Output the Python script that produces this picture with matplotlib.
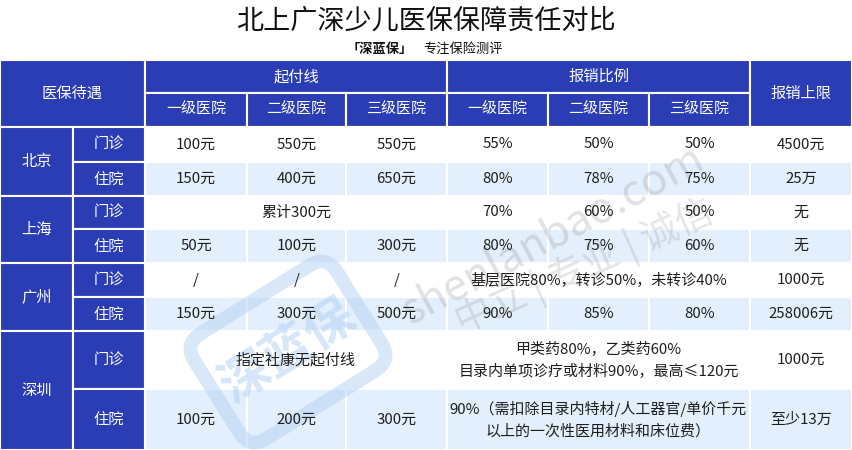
import matplotlib
matplotlib.use('Agg')
import matplotlib.pyplot as plt
from matplotlib.patches import Rectangle, FancyBboxPatch
import matplotlib.transforms as mtransforms

plt.rcParams['font.family'] = ['Noto Sans CJK SC', 'DejaVu Sans']

title = '北上广深少儿医保保障责任对比'
brand = '「深蓝保」'
slogan = '专注保险测评'

cities = ['北京', '上海', '广州', '深圳']
kinds = ['门诊', '住院']
groups = ['起付线', '报销比例']
levels = ['一级医院', '二级医院', '三级医院']

# one list per body row, (text, span) for merged cells
deduct = [
    ['100元', '550元', '550元'],
    ['150元', '400元', '650元'],
    [('累计300元', 3)],
    ['50元', '100元', '300元'],
    ['/', '/', '/'],
    ['150元', '300元', '500元'],
    [('指定社康无起付线', 3)],
    ['100元', '200元', '300元'],
]
ratio = [
    ['55%', '50%', '50%'],
    ['80%', '78%', '75%'],
    ['70%', '60%', '50%'],
    ['80%', '75%', '60%'],
    [('基层医院80%，转诊50%，未转诊40%', 3)],
    ['90%', '85%', '80%'],
    [('甲类药80%，乙类药60%\n目录内单项诊疗或材料90%，最高≤120元', 3)],
    [('90%（需扣除目录内特材/人工器官/单价千元\n以上的一次性医用材料和床位费）', 3)],
]
limits = ['4500元', '25万', '无', '无', '1000元', '258006元', '1000元', '至少13万']

BLUE = '#2a3db5'
LIGHT = '#e3effc'
INK = '#1e1e1e'

col_x = [0, 73, 145, 247, 346, 447, 548, 649, 750, 852]
head_y = [60, 93, 127]
row_y = [127, 162, 196, 229, 263, 297, 331, 389, 450]

fig = plt.figure(figsize=(8.52, 4.5), dpi=100)
ax = fig.add_axes([0, 0, 1, 1])
ax.set_xlim(0, 852)
ax.set_ylim(450, 0)
ax.axis('off')


def cell(x0, x1, y0, y1, face, txt, color=INK, size=10.8):
    ax.add_patch(Rectangle((x0, y0), x1 - x0, y1 - y0, facecolor=face,
                           edgecolor='white', linewidth=1.5, zorder=1))
    if txt:
        ax.text((x0 + x1) / 2, (y0 + y1) / 2, txt, ha='center', va='center',
                color=color, fontsize=size, linespacing=1.6, zorder=3)


def group_cells(items, start, y0, y1, face):
    c = start
    for it in items:
        if isinstance(it, tuple):
            txt, span = it
        else:
            txt, span = it, 1
        cell(col_x[c], col_x[c + span], y0, y1, face, txt)
        c += span


# title
ax.text(426, 21, title, ha='center', va='center', fontsize=19.5,
        fontweight='medium', color='#111111')
ax.text(413, 49, brand, ha='right', va='center', fontsize=9.5,
        fontweight='bold', color='#111111')
ax.text(423, 49, slogan, ha='left', va='center', fontsize=9.5, color='#111111')

# header
cell(0, col_x[2], head_y[0], head_y[2], BLUE, '医保待遇', 'white', 11)
for g, name in enumerate(groups):
    cell(col_x[2 + 3 * g], col_x[5 + 3 * g], head_y[0], head_y[1], BLUE, name, 'white', 11)
for i in range(6):
    cell(col_x[2 + i], col_x[3 + i], head_y[1], head_y[2], BLUE, levels[i % 3], 'white', 10.8)
cell(col_x[8], col_x[9], head_y[0], head_y[2], BLUE, '报销上限', 'white', 11)

# body
for r in range(8):
    y0, y1 = row_y[r], row_y[r + 1]
    face = 'white' if r % 2 == 0 else LIGHT
    if r % 2 == 0:
        cell(col_x[0], col_x[1], y0, row_y[r + 2], BLUE, cities[r // 2], 'white', 11)
    cell(col_x[1], col_x[2], y0, y1, BLUE, kinds[r % 2], 'white', 11)
    group_cells(deduct[r], 2, y0, y1, face)
    group_cells(ratio[r], 5, y0, y1, face)
    cell(col_x[8], col_x[9], y0, y1, face, limits[r])

# watermark
ax.text(553, 235, 'shenlanbao.com', rotation=28, rotation_mode='anchor',
        ha='center', va='center', fontsize=31, color='#8a8a8a', alpha=0.25, zorder=2)
ax.text(585, 268, '中立 | 专业 | 诚信', rotation=24, rotation_mode='anchor',
        ha='center', va='center', fontsize=27, color='#8a8a8a', alpha=0.22, zorder=2)
rot = mtransforms.Affine2D().rotate_deg_around(288, 352, -32) + ax.transData
ax.add_patch(FancyBboxPatch((208, 294), 160, 116, boxstyle='round,pad=4,rounding_size=20',
                            facecolor='none', edgecolor='#b5d2f3', linewidth=10,
                            alpha=0.5, transform=rot, zorder=2))
ax.text(288, 352, '深蓝保', rotation=32, rotation_mode='anchor', ha='center',
        va='center', fontsize=36, fontweight='bold', color='#b5d2f3', alpha=0.55, zorder=2)

fig.savefig('out.png', dpi=100)
